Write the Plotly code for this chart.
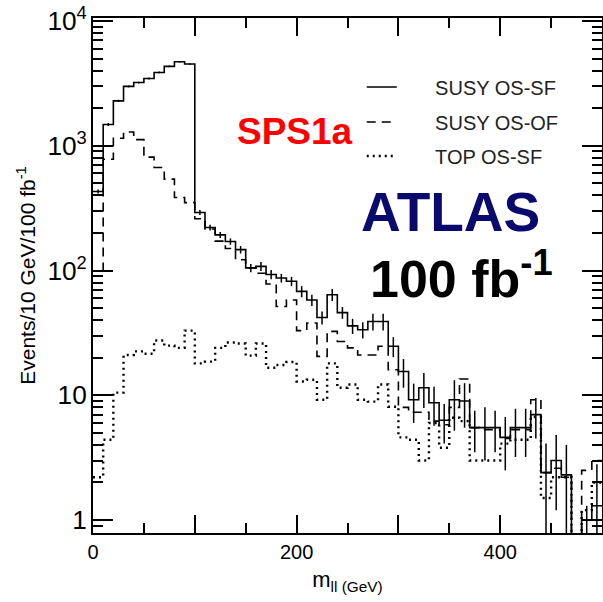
import plotly.graph_objects as go

# bin lower edges (GeV), 10 GeV bins
bin_lo = list(range(0, 500, 10))
bin_hi_last = 500

susy_sf = [430, 1480, 2290, 2990, 3210, 3460, 3870, 4330, 4710, 4520,
           292, 221, 193, 171, 147, 105, 108, 93, 87, 82,
           68, 58, 42, 64, 46, 36, 33.5, 39, 39, 24.7,
           15.5, 9.2, 11.5, 8.7, 6.3, 9.2, 9.0, 5.5, 5.5, 5.5,
           4.6, 5.5, 5.5, 7.0, 2.4, 3.0, 2.3, 0.3, 1.0, 1.3]

susy_sf_err = [15, 40, 50, 55, 55, 60, 60, 65, 70, 65,
               14, 12, 11, 10, 10, 8, 9, 8, 7, 7,
               7, 6, 5, 7, 5, 5, 5, 6, 6, 4.5,
               4, 3.2, 3.6, 3, 2.2, 4, 3.5, 2, 2.5, 2,
               2.1, 2.3, 2.3, 2.5, 1.7, 1.8, 1.7, 0, 0.3, 1.5]

susy_of = [90, 780, 1150, 1290, 1120, 810, 670, 540, 385, 350,
           260, 215, 172, 150, 122, 105, 95, 78, 51.5, 58,
           33, 38, 20.5, 32.5, 27, 24, 21, 21, 24.7, 16,
           8.0, 7.3, 7.3, 6.2, 5.8, 8.0, 13.5, 5.5, 5.3, 5.3,
           4.5, 5.3, 5.3, 9.2, 2.4, 2.6, 2.2, 0.3, 2.5, 3.0]

top_sf = [2.2, 4.4, 10.5, 21, 22.5, 21.5, 27.5, 25, 24, 33,
          18, 18.6, 24, 26.5, 26, 20.8, 26, 16.6, 17.5, 18.5,
          12.9, 13.3, 9.2, 18, 11.5, 12.2, 9.2, 8.9, 12.2, 8.1,
          4.6, 4.4, 3.0, 6.0, 3.8, 6.6, 6.2, 3.0, 3.0, 3.0,
          4.1, 4.4, 4.4, 6.7, 1.5, 2.2, 2.2, 0.3, 1.2, 2.0]

names = ["SUSY OS-SF", "SUSY OS-OF", "TOP OS-SF"]

x_ticks = [0, 100, 200, 300, 400, 500]
x_ticktext = ["0", "", "200", "", "400", ""]

FONT = "Liberation Sans, Arial, Helvetica, sans-serif"

edges = bin_lo + [bin_hi_last]
centers = [b + 5 for b in bin_lo]

def steps(v):
    return list(v) + [v[-1]]

fig = go.Figure()

fig.add_trace(go.Scatter(x=edges, y=steps(susy_sf), mode="lines", line_shape="hv",
                         line=dict(color="black", width=1.6),
                         name="\u00a0" * 6 + names[0], legend="legend"))
fig.add_trace(go.Scatter(x=centers, y=susy_sf, mode="markers",
                         marker=dict(size=0.1, color="black"),
                         error_y=dict(type="data", array=susy_sf_err, width=0,
                                      thickness=1.5, color="black"),
                         showlegend=False, hoverinfo="skip"))
fig.add_trace(go.Scatter(x=edges, y=steps(susy_of), mode="lines", line_shape="hv",
                         line=dict(color="black", width=1.6, dash="9px,6px"),
                         name="\u00a0" * 6 + names[1], legend="legend2"))
fig.add_trace(go.Scatter(x=edges, y=steps(top_sf), mode="lines", line_shape="hv",
                         line=dict(color="black", width=2.4, dash="2px,4px"),
                         name="\u00a0" * 6 + names[2], legend="legend3"))

leg_common = dict(font=dict(family=FONT, size=20, color="#222"),
                  bgcolor="rgba(0,0,0,0)", borderwidth=0,
                  xanchor="left", yanchor="middle")

ann_common = dict(xref="paper", yref="paper", xanchor="center", yanchor="middle",
                  showarrow=False)

fig.update_layout(
    width=603, height=602,
    margin=dict(l=93, r=1, t=18, b=69, autoexpand=False),
    paper_bgcolor="white", plot_bgcolor="white",
    font=dict(family=FONT, color="black"),
    legend=dict(x=0.528, y=0.866, **leg_common),
    legend2=dict(x=0.528, y=0.798, **leg_common),
    legend3=dict(x=0.528, y=0.732, **leg_common),
    xaxis=dict(range=[0, 500], tickmode="array", tickvals=x_ticks, ticktext=x_ticktext,
               automargin=False,
               ticks="inside", ticklen=18, tickwidth=1.5, tickcolor="black",
               minor=dict(tickmode="array", tickvals=[50, 150, 250, 350, 450],
                          ticks="inside", ticklen=10, tickwidth=1.5, tickcolor="black"),
               showline=True, linewidth=2, linecolor="black", mirror="ticks",
               showgrid=False, zeroline=False,
               tickfont=dict(size=20, family=FONT),
               title=dict(text="m<sub>ll (GeV)</sub>", font=dict(size=22, family=FONT),
                          standoff=10)),
    yaxis=dict(type="log", range=[-0.104, 4.024], dtick=1, tick0=0,
               automargin=False,
               exponentformat="power", showexponent="all",
               ticks="inside", ticklen=20, tickwidth=1.5, tickcolor="black",
               minor=dict(ticks="inside", ticklen=10, tickwidth=1.5, tickcolor="black",
                          dtick="D1"),
               showline=True, linewidth=2, linecolor="black", mirror="ticks",
               showgrid=False, zeroline=False,
               tickfont=dict(size=21, family=FONT),
               title=dict(text="Events/10 GeV/100 fb<sup>-1</sup>",
                          font=dict(size=21, family=FONT), standoff=6)),
    annotations=[
        dict(text="<b>SPS1a</b>", x=0.397, y=0.779,
             font=dict(size=37, color="#ff0000", family=FONT), **ann_common),
        dict(text="<b>ATLAS</b>", x=0.703, y=0.623,
             font=dict(size=55, color="#0a0a6e", family=FONT), **ann_common),
        dict(text="<b>100 fb<sup>-1</sup></b>", x=0.723, y=0.501,
             font=dict(size=52, color="black", family=FONT), **ann_common),
    ],
)

fig.write_html("out.html", config={"displayModeBar": False},
               post_script="document.body.style.margin='0px';document.body.style.overflow='hidden';")
